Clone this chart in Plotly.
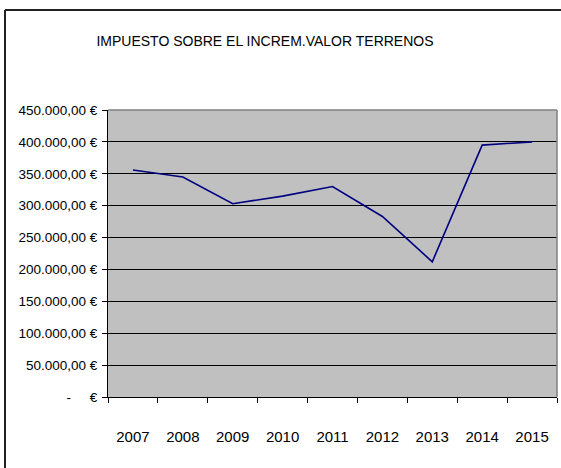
import plotly.graph_objects as go

years = ["2007", "2008", "2009", "2010", "2011", "2012", "2013", "2014", "2015"]
values = [356000, 345000, 303000, 315000, 330000, 283000, 212000, 395000, 400000]
tick_vals = [0, 50000, 100000, 150000, 200000, 250000, 300000, 350000, 400000, 450000]
tick_text = ["-\u00a0\u00a0\u00a0\u00a0\u00a0€", "50.000,00 €", "100.000,00 €", "150.000,00 €",
             "200.000,00 €", "250.000,00 €", "300.000,00 €", "350.000,00 €",
             "400.000,00 €", "450.000,00 €"]
title = "IMPUESTO SOBRE EL INCREM.VALOR TERRENOS"

FONT = "Liberation Sans Narrow, Arial Narrow, Liberation Sans, Arial"

fig = go.Figure()
fig.add_trace(go.Scatter(x=years, y=values, mode="lines",
                         line=dict(color="#000080", width=1.6), showlegend=False))

L, R, T, B = 108, 4, 110, 71
W, H = 561, 468
pw, ph = W - L - R, H - T - B

def px(x):
    return (x - L) / pw

def py(y):
    return 1 - (y - T) / ph

fig.update_layout(
    width=W, height=H,
    margin=dict(l=L, r=R, t=T, b=B),
    paper_bgcolor="white", plot_bgcolor="#c0c0c0",
    font=dict(family=FONT, color="black"),
    title=dict(text=title, x=265 / W, xanchor="center", xref="container",
               y=1 - 41 / H, yanchor="middle", yref="container",
               font=dict(size=14, family=FONT)),
    xaxis=dict(type="category", tickson="boundaries", ticks="outside", ticklen=5,
               tickcolor="black", showline=True, linecolor="black", linewidth=1,
               showgrid=False, tickfont=dict(size=15), ticklabelstandoff=26,
               range=[-0.5, 8.5]),
    yaxis=dict(range=[0, 450000], tickvals=tick_vals, ticktext=tick_text,
               ticks="outside", ticklen=5, tickcolor="black",
               showline=True, linecolor="black", linewidth=1,
               showgrid=True, gridcolor="black", gridwidth=1,
               zeroline=False, tickfont=dict(size=13.5), ticklabelstandoff=2),
    shapes=[
        dict(type="line", xref="paper", yref="paper", x0=1, x1=1, y0=0, y1=1,
             line=dict(color="#808080", width=1.5)),
        dict(type="line", xref="paper", yref="paper", x0=0, x1=1, y0=1, y1=1,
             line=dict(color="#808080", width=1.5)),
        dict(type="line", xref="paper", yref="paper", x0=px(5), x1=px(565),
             y0=py(10), y1=py(10), line=dict(color="#222", width=2)),
        dict(type="line", xref="paper", yref="paper", x0=px(5), x1=px(5),
             y0=py(10), y1=py(475), line=dict(color="#222", width=2)),
    ],
)

fig.write_html("out.html", config={"displayModeBar": False},
               post_script="document.body.style.margin='0';")
